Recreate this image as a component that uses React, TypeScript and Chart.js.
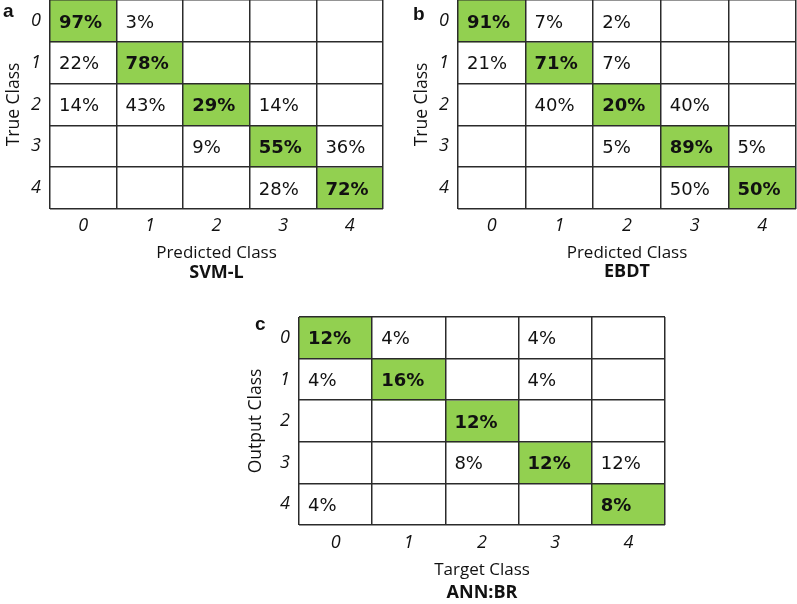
import React, { useEffect, useRef } from 'react';
import { Chart, registerables } from 'chart.js';

Chart.register(...registerables);

// ---- data ----
const classLabels = ['0', '1', '2', '3', '4'];

const svmLValues: (number | null)[][] = [
  [97, 3, null, null, null],
  [22, 78, null, null, null],
  [14, 43, 29, 14, null],
  [null, null, 9, 55, 36],
  [null, null, null, 28, 72],
];

const ebdtValues: (number | null)[][] = [
  [91, 7, 2, null, null],
  [21, 71, 7, null, null],
  [null, 40, 20, 40, null],
  [null, null, 5, 89, 5],
  [null, null, null, 50, 50],
];

const annBrValues: (number | null)[][] = [
  [12, 4, null, 4, null],
  [4, 16, null, 4, null],
  [null, null, 12, null, null],
  [null, null, 8, 12, 12],
  [4, null, null, null, 8],
];

const GREEN = '#92D050';
const WHITE = '#FFFFFF';
const LINE = '#2b2b2b';
const TEXT = '#111111';
const TITLE_FONT = '"Open Sans", "Liberation Sans", sans-serif';
const CELL_FONT = '"DejaVu Sans", "Liberation Sans", sans-serif';
const LETTER_FONT = '"Liberation Sans", Arial, sans-serif';

type PanelProps = {
  letter: string;
  values: (number | null)[][];
  xTitle: string;
  yTitle: string;
  name: string;
  left: number;
  top: number;
  width: number;
  height: number;
  padLeft: number;
  yAxisWidth: number;
  xAxisHeight: number;
  xTickPad: number;
  namePadTop: number;
  namePadBottom: number;
  letterX: number;
  letterY: number;
};

function Panel(p: PanelProps) {
  const ref = useRef<HTMLCanvasElement | null>(null);

  useEffect(() => {
    if (!ref.current) return;
    const datasets = p.values.map((row, r) => ({
      label: 'row ' + r,
      data: classLabels.map(() => [r, r + 1]),
      backgroundColor: classLabels.map((_, c) => (r === c ? GREEN : WHITE)),
      borderWidth: 0,
      barPercentage: 1,
      categoryPercentage: 1,
      grouped: false,
      yAxisID: 'y',
      xAxisID: 'x',
    }));

    const cellText = {
      id: 'cellText_' + p.letter,
      afterDraw(chart: any) {
        const ctx = chart.ctx;
        ctx.save();
        ctx.fillStyle = TEXT;
        ctx.textBaseline = 'middle';
        ctx.textAlign = 'left';
        p.values.forEach((row, r) => {
          const meta = chart.getDatasetMeta(r);
          row.forEach((v, c) => {
            if (v === null) return;
            const el = meta.data[c] as any;
            const { x, y, width, base } = el.getProps(['x', 'y', 'width', 'base'], true);
            const cy = (y + base) / 2;
            ctx.font = (r === c ? 'bold ' : '') + '18px ' + CELL_FONT;
            ctx.fillText(v + '%', x - width / 2 + 9, cy + 2);
          });
        });
        ctx.font = 'bold 19px ' + LETTER_FONT;
        ctx.fillText(p.letter, p.letterX, p.letterY);
        ctx.restore();
      },
    };

    const noPad = (s: any) => {
      s.paddingTop = 0;
      s.paddingBottom = 0;
      s.paddingLeft = 0;
      s.paddingRight = 0;
    };

    const chart = new Chart(ref.current, {
      type: 'bar',
      data: { labels: classLabels, datasets: datasets as any },
      options: {
        animation: false,
        responsive: false,
        devicePixelRatio: 1,
        layout: { padding: { left: p.padLeft, right: 1, top: 1, bottom: 0 } },
        plugins: {
          legend: { display: false },
          tooltip: { enabled: false },
          title: {
            display: true,
            text: p.name,
            position: 'bottom',
            fullSize: false,
            color: TEXT,
            font: { family: TITLE_FONT, size: 18, weight: 'bold', lineHeight: 1 },
            padding: { top: p.namePadTop, bottom: p.namePadBottom },
          },
        },
        scales: {
          x: {
            type: 'category',
            offset: true,
            grid: { display: true, offset: true, color: LINE, lineWidth: 1.5, drawTicks: false, z: 1 } as any,
            border: { display: false },
            ticks: {
              color: TEXT,
              padding: p.xTickPad,
              maxRotation: 0,
              autoSkip: false,
              font: { family: TITLE_FONT, size: 18, style: 'italic' },
            },
            title: {
              display: true,
              text: p.xTitle,
              color: TEXT,
              font: { family: TITLE_FONT, size: 17, lineHeight: 1 },
              padding: { top: 0, bottom: 0 },
            },
            afterFit: (s: any) => {
              s.height = p.xAxisHeight;
              noPad(s);
            },
          },
          y: {
            type: 'linear',
            position: 'left',
            min: 0,
            max: 5,
            reverse: true,
            grid: { display: false, drawTicks: false },
            border: { display: false },
            afterBuildTicks: (s: any) => {
              s.ticks = classLabels.map((_, i) => ({ value: i + 0.5 }));
            },
            ticks: {
              color: TEXT,
              padding: 9,
              autoSkip: false,
              font: { family: TITLE_FONT, size: 18, style: 'italic' },
              callback: (v: any) => classLabels[Math.floor(Number(v))],
            },
            title: {
              display: true,
              text: p.yTitle,
              color: TEXT,
              font: { family: TITLE_FONT, size: 17.5, lineHeight: 1 },
              padding: { top: 0, bottom: 0 },
            },
            afterFit: (s: any) => {
              s.width = p.yAxisWidth;
              noPad(s);
            },
          },
          yg: {
            type: 'linear',
            position: 'right',
            min: 0,
            max: 5,
            reverse: true,
            ticks: { display: false, stepSize: 1 },
            grid: { color: LINE, lineWidth: 1.5, drawTicks: false, z: 1 } as any,
            border: { display: false },
            afterFit: (s: any) => {
              s.width = 0;
              noPad(s);
            },
          },
        } as any,
      },
      plugins: [cellText],
    });
    return () => chart.destroy();
  }, []);

  return (
    <canvas
      ref={ref}
      width={p.width}
      height={p.height}
      style={{ position: 'absolute', left: p.left, top: p.top, width: p.width, height: p.height }}
    />
  );
}

export default function App() {
  return (
    <div style={{ position: 'absolute', left: 0, top: 0, width: 797, height: 604, background: '#fff', overflow: 'hidden' }}>
      <Panel
        letter="a"
        values={svmLValues}
        xTitle="Predicted Class"
        yTitle="True Class"
        name="SVM-L"
        left={0}
        top={-1}
        width={384}
        height={288}
        padLeft={5}
        yAxisWidth={45}
        xAxisHeight={53}
        xTickPad={6}
        namePadTop={2}
        namePadBottom={5}
        letterX={3}
        letterY={13}
      />
      <Panel
        letter="b"
        values={ebdtValues}
        xTitle="Predicted Class"
        yTitle="True Class"
        name="EBDT"
        left={400}
        top={-1}
        width={397}
        height={287}
        padLeft={13}
        yAxisWidth={45}
        xAxisHeight={53}
        xTickPad={6}
        namePadTop={1}
        namePadBottom={5}
        letterX={13}
        letterY={16}
      />
      <Panel
        letter="c"
        values={annBrValues}
        xTitle="Target Class"
        yTitle="Output Class"
        name="ANN:BR"
        left={200}
        top={316}
        width={466}
        height={288}
        padLeft={47}
        yAxisWidth={52}
        xAxisHeight={54}
        xTickPad={7}
        namePadTop={5}
        namePadBottom={2}
        letterX={55}
        letterY={9}
      />
    </div>
  );
}
